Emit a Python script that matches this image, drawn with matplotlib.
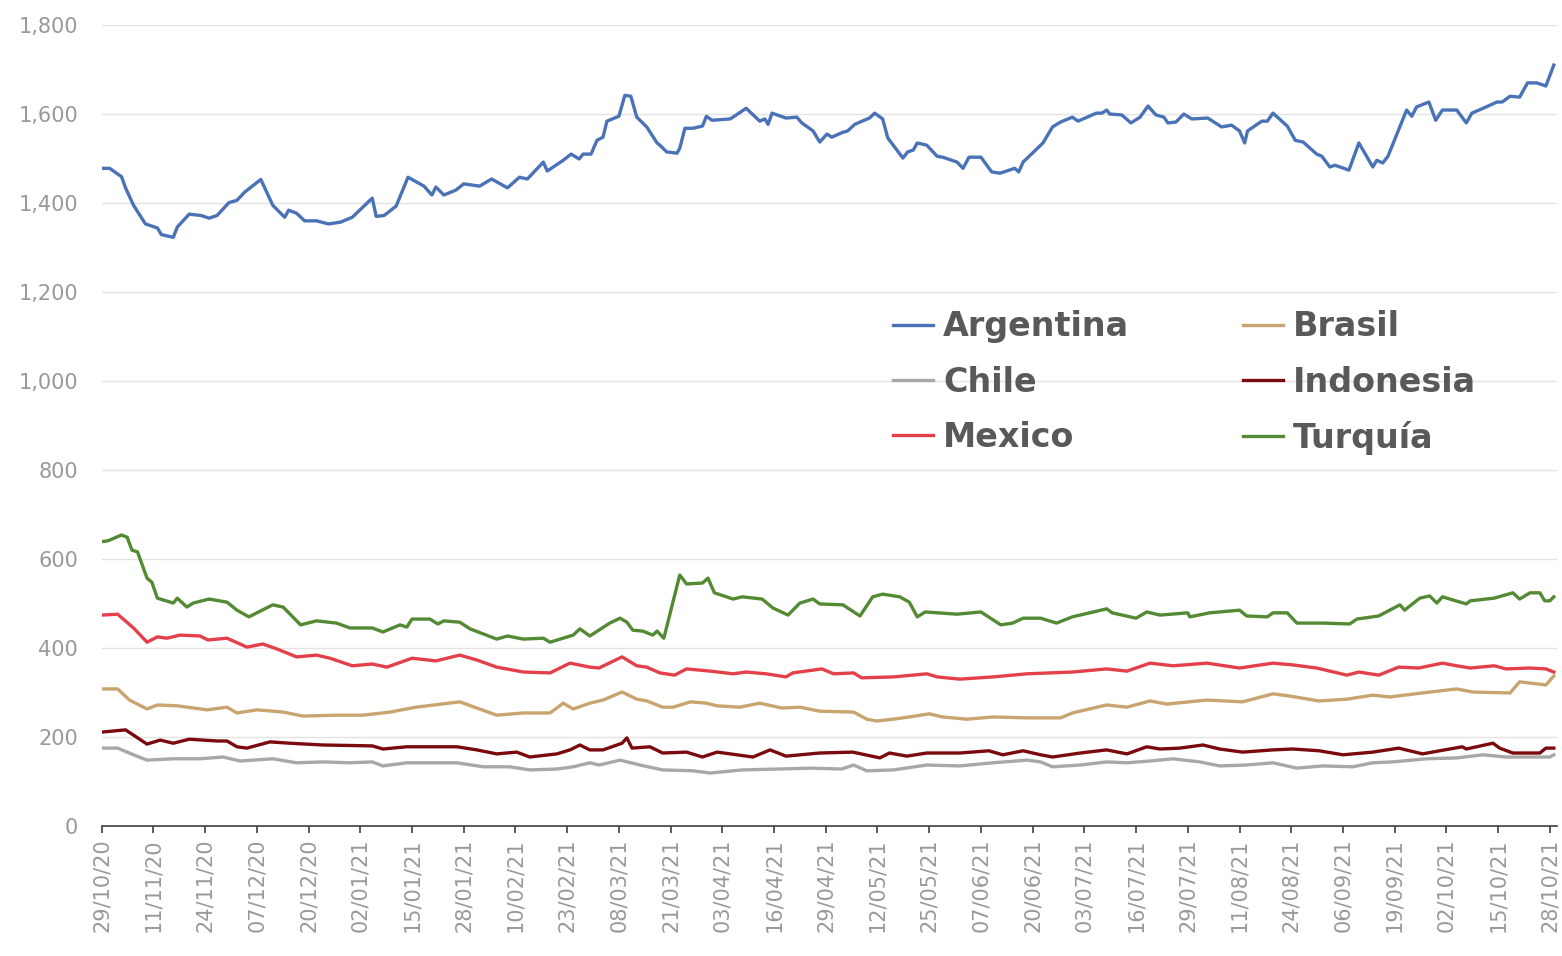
import matplotlib
matplotlib.use("Agg")
import matplotlib.pyplot as plt
import matplotlib.dates as mdates
import matplotlib.ticker as mticker
import pandas as pd

plt.rcParams['font.family'] = ['DejaVu Sans']

start = pd.Timestamp('2020-10-29')

# day offsets from 29/10/20 and values
arg_days = [0, 2, 5, 6, 8, 11, 14, 15, 18, 19, 22, 25, 27, 29, 32, 34, 36, 40, 43, 46, 47, 49, 51, 54, 57, 60,
            63, 68, 69, 71, 74, 77, 81, 83, 84, 86, 89, 91, 95, 98, 102, 105, 107, 111, 112, 116, 118, 120, 121,
            123, 124.5, 126, 127, 130, 131.5, 133, 134.5, 137, 139.6, 140.3, 142, 144.6, 145.3, 146.6, 148.6, 151,
            152, 153.4, 158, 162, 165.4, 166.7, 167.5, 168.5, 172, 174.7, 176, 178.8, 180.5, 182.3, 183.5, 186.3,
            187.5, 189.3, 193, 194.3, 196.3, 197.6, 201.4, 202.6, 204, 205, 207.4, 210, 211.4, 215, 216.5, 218,
            221, 223.7, 225.8, 229.5, 230.5, 231.6, 236, 236.6, 239, 241, 244, 245.4, 250, 251.4, 252.6, 253.4,
            256.4, 258.7, 261, 263, 265, 267, 268, 270, 272, 274, 278, 281.5, 284, 286, 287.3, 288, 291.6, 293,
            294.4, 298, 300, 302, 305.4, 306.7, 308.7, 310, 313.5, 316, 319.5, 320.5, 322, 323.3, 328, 329.3,
            330.5, 333.6, 335.3, 337, 340.6, 343, 344.4, 348, 350.7, 352, 354, 356.4, 358.4, 360.7, 363, 365]
arg_vals = [1478, 1478, 1459, 1434, 1395, 1353, 1344, 1329, 1323, 1346, 1375, 1372, 1366, 1372, 1401, 1406, 1425,
            1453, 1395, 1368, 1384, 1377, 1360, 1360, 1353, 1357, 1368, 1411, 1370, 1372, 1393, 1458, 1438, 1418,
            1436, 1418, 1429, 1443, 1438, 1454, 1434, 1458, 1454, 1492, 1472, 1496, 1510, 1499, 1510,
            1510, 1541, 1548, 1584, 1595, 1642, 1640, 1593, 1571, 1535, 1530, 1515, 1512, 1523, 1568, 1568, 1573,
            1595, 1586, 1589, 1613, 1584, 1589, 1577, 1602, 1591, 1593, 1580, 1562, 1537, 1555, 1548, 1559,
            1562, 1577, 1591, 1602, 1589, 1546, 1501, 1515, 1519, 1535, 1530, 1505, 1503, 1492, 1478, 1503,
            1503, 1470, 1467, 1478, 1470, 1492, 1530, 1535, 1571, 1582, 1593, 1584, 1602, 1602, 1609, 1600,
            1598, 1580, 1593, 1618, 1598, 1593, 1580, 1582, 1600, 1589, 1591, 1571, 1575, 1562, 1535, 1562, 1584, 1584,
            1602, 1573, 1541, 1537, 1510, 1505, 1481, 1485, 1474, 1535, 1481, 1496, 1490, 1505, 1609, 1595,
            1616, 1627, 1586, 1609, 1609, 1580, 1602, 1616, 1627, 1627, 1640, 1638, 1670, 1670, 1663, 1710]

tur_days = [0, 1.6, 5, 6.4, 7.6, 9, 11.4, 12.6, 14, 18, 19, 21.4, 23, 27, 31.5, 34, 37, 39, 43, 45.6, 50, 54, 59,
            62.4, 68, 70.7, 75, 76.7, 78, 82.5, 84.5, 86, 90, 92.6, 99.3, 102, 106, 111, 112.7, 118.5, 120.2, 122.7,
            127.7, 130.3, 132, 133.5, 136, 138.5, 139.6, 141.3, 145.3, 147, 151, 152.4, 154, 158.7, 161, 166,
            168.7, 172.5, 175.5, 178.8, 180.5, 186.3, 190.6, 193.8, 196.3, 200.6, 203, 205, 207, 215, 221, 226,
            229, 231.6, 236, 240, 244, 252.6, 254, 260, 262.7, 266, 273, 273.5, 278.5, 286, 287.8, 293, 294.4,
            298, 300.4, 307, 313.7, 315.5, 321, 326.3, 327.5, 331.3, 333.8, 335.6, 337, 343, 344, 350, 354.7,
            356.4, 359, 361.5, 362.7, 364, 365]
tur_vals = [639, 641, 654, 649, 620, 616, 557, 548, 512, 501, 512, 492, 501, 510, 503, 485, 470, 479, 497, 492, 452,
            461, 456, 445, 445, 436, 452, 447, 465, 465, 454, 461, 458, 443, 420, 427, 420, 422, 413, 429, 443, 427,
            456, 467, 458, 440, 438, 429, 438, 422, 564, 544, 546, 557, 524, 510, 515, 510,
            490, 474, 501, 510, 499, 497, 472, 515, 521, 515, 503, 470, 481, 476, 481, 452,
            456, 467, 467, 456, 470, 488, 479, 467, 481, 474, 479, 470, 479, 485, 472, 470, 479,
            479, 456, 456, 454, 465, 472, 497, 485, 512, 517, 501, 515, 499, 506, 512, 524,
            510, 524, 524, 506, 506, 515]

mex_days = [0, 4, 8, 11.4, 14, 16.4, 19.7, 24.7, 26.7, 31.5, 36.5, 40.5, 44, 49, 54, 57.4, 63, 68, 71.7, 78, 84, 90,
            94.3, 99.3, 106, 112.7, 117.7, 122.7, 125, 130.8, 134.5, 137, 140.3, 144, 147, 153, 158.7, 162, 167,
            172, 173.7, 181, 184, 189, 191, 199, 207.4, 210, 215.7, 224, 232.6, 244, 252.6, 257.7, 263.5, 269.3,
            277.8, 286, 294.4, 299.4, 305.4, 313, 316, 321, 326, 331, 337, 340.6, 344, 350, 353, 359, 363, 365]
mex_vals = [474, 476, 445, 413, 425, 422, 429, 427, 418, 422, 402, 409, 398, 380, 384, 377, 360, 364, 357, 377, 371, 384,
            373, 357, 346, 344, 366, 357, 355, 380, 360, 357, 344, 339, 353, 348, 342, 346, 342,
            335, 344, 353, 342, 344, 333, 335, 342, 335, 330, 335, 342, 346, 353, 348, 366, 360,
            366, 355, 366, 362, 355, 339, 346, 339, 357, 355, 366, 360, 355, 360, 353, 355, 353, 346]

bra_days = [0, 4, 7, 11.4, 14, 19, 26.5, 31.5, 34, 39, 45.6, 50.6, 59, 65.7, 72.5, 79, 90, 94.3, 99.3, 106, 112.7,
            116, 118.5, 122.7, 126, 130.8, 134.5, 137, 141, 143.6, 148, 152, 154.7, 160.4, 165.4, 171, 175.5,
            180.5, 189, 192.3, 194.8, 199, 203, 208, 211.4, 217.5, 224, 232.6, 241, 244, 252.6, 257.7, 263.5,
            267.7, 277.8, 286.8, 294.4, 298.6, 306, 313, 319.5, 323.8, 332, 340.6, 344.6, 354, 356.4, 363, 365]
bra_vals = [308, 308, 283, 263, 272, 270, 261, 267, 254, 261, 256, 247, 249, 249, 256, 267, 279, 265, 249, 254, 254,
            276, 263, 276, 283, 301, 285, 281, 267, 267, 279, 276, 270, 267, 276, 265, 267,
            258, 256, 240, 236, 240, 245, 252, 245, 240, 245, 243, 243, 254, 272, 267, 281,
            274, 283, 279, 297, 292, 281, 285, 294, 290, 299, 308, 301, 299, 324, 317, 337]

ind_days = [0, 6, 11.4, 14.7, 18, 22, 29, 31.5, 34, 36.5, 42.3, 47.3, 55.6, 68, 70.7, 76.7, 89.3, 94.3, 99.3, 104.3,
            107.6, 114.4, 117.7, 120.2, 122.7, 126, 130.8, 132, 133.3, 137.8, 141, 147, 151, 154.7, 163.7, 168,
            172, 180.5, 188.8, 195.6, 198, 202.4, 207.4, 215.7, 223, 226.5, 231.6, 236, 239, 246, 252.6, 257.7,
            262.7, 266, 271, 276.8, 281, 286.8, 294.4, 299.4, 306, 312, 319.5, 326, 332, 336.3, 342, 343, 349.7,
            351.4, 354.7, 361.5, 363, 365]
ind_vals = [211, 216, 184, 193, 186, 195, 191, 191, 178, 175, 189, 186, 182, 180, 173, 178, 178, 171, 162, 166,
            155, 162, 171, 182, 171, 171, 186, 198, 175, 178, 164, 166, 155, 166, 155, 171,
            157, 164, 166, 153, 164, 157, 164, 164, 169, 160, 169, 160, 155, 164, 171, 162,
            178, 173, 175, 182, 173, 166, 171, 173, 169, 160, 166, 175, 162, 169, 178, 173, 186,
            175, 164, 164, 175, 175]

chi_days = [0, 4, 8, 11.4, 18, 24.7, 30.5, 34.8, 43, 49, 55.6, 62.4, 68, 70.7, 76.7, 89.3, 96, 102.6, 107.6, 114.4,
            118.5, 122.7, 125, 130.3, 135.3, 141, 148.6, 153, 161, 170, 178, 186, 189, 192.3, 199, 207.4, 215.7,
            224, 232.6, 236, 239, 246, 252.6, 257.7, 263.5, 269.3, 276, 281, 287.8, 294.4, 300.4, 307, 314.5,
            319.5, 324.5, 333, 340.6, 347.2, 353, 359.7, 364, 365]
chi_vals = [175, 175, 160, 148, 151, 151, 155, 146, 151, 142, 144, 142, 144, 135, 142, 142, 133, 133, 126, 128,
            133, 142, 137, 148, 137, 126, 124, 119, 126, 128, 130, 128, 137, 124, 126, 137, 135,
            142, 148, 144, 133, 137, 144, 142, 146, 151, 144, 135, 137, 142, 130, 135, 133,
            142, 144, 151, 153, 160, 155, 155, 155, 160]

series = [
    ('Argentina', arg_days, arg_vals, '#4a72b6'),
    ('Brasil', bra_days, bra_vals, '#c9a46f'),
    ('Chile', chi_days, chi_vals, '#a8a8a8'),
    ('Indonesia', ind_days, ind_vals, '#7a0a0e'),
    ('Mexico', mex_days, mex_vals, '#e4404a'),
    ('Turquía', tur_days, tur_vals, '#538a33'),
]

fig = plt.figure(figsize=(15.62, 9.56), dpi=100)
ax = fig.add_axes([0.0651, 0.136, 0.9317, 0.8378])

lines = {}
for name, days, vals, color in series:
    dates = start + pd.to_timedelta(days, unit='D')
    ln, = ax.plot(dates, vals, color=color, lw=2.4, label=name)
    lines[name] = ln

ax.set_ylim(0, 1800)
ax.set_yticks(range(0, 1801, 200))
ax.yaxis.set_major_formatter(mticker.FuncFormatter(lambda v, p: f'{int(v):,}'))
ax.set_xlim(start, start + pd.Timedelta(days=365.8))
ax.set_xticks(pd.date_range(start, periods=29, freq='13D'))
ax.xaxis.set_major_formatter(mdates.DateFormatter('%d/%m/%y'))

ax.grid(axis='y', color='#e3e3e3', lw=1)
ax.set_axisbelow(True)
for s in ['top', 'right', 'left']:
    ax.spines[s].set_visible(False)
ax.spines['bottom'].set_color('#404040')
ax.spines['bottom'].set_linewidth(1.2)
ax.tick_params(axis='y', length=0, pad=17, labelsize=15, labelcolor='#999999')
ax.tick_params(axis='x', length=5, width=1.2, color='#404040', pad=4, labelsize=15,
               labelcolor='#999999', labelrotation=90)

# legend laid out row by row: Argentina/Brasil, Chile/Indonesia, Mexico/Turquía
order = ['Argentina', 'Chile', 'Mexico', 'Brasil', 'Indonesia', 'Turquía']
ax.legend([lines[n] for n in order], order, ncol=2, frameon=False, loc='upper left',
          bbox_to_anchor=(0.5717, 0.6753), bbox_transform=fig.transFigure,
          prop={'size': 24, 'weight': 'bold'}, labelcolor='#595959',
          handlelength=1.2, handletextpad=0.3, columnspacing=3.42, labelspacing=0.67,
          borderpad=0, borderaxespad=0)

fig.savefig('out.png', dpi=100)
